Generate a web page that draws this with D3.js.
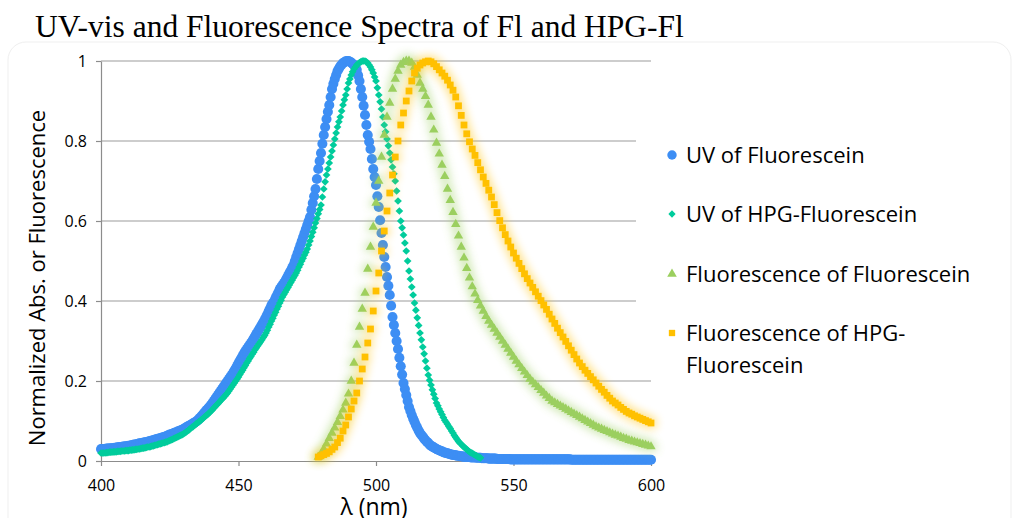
<!DOCTYPE html>
<html>
<head>
<meta charset="utf-8">
<script src="https://cdn.jsdelivr.net/npm/d3@7"></script>
<style>
  body { margin: 0; background: #fff; }
  svg { display: block; }
</style>
</head>
<body>
<svg id="chart" width="1019" height="518"></svg>
<script>
// ---- data (normalized) ----
const xTicks = [400, 450, 500, 550, 600];
const yTicks = [0, 0.2, 0.4, 0.6, 0.8, 1];

const seriesNames = ["UV of Fluorescein", "UV of HPG-Fluorescein", "Fluorescence of Fluorescein", "Fluorescence of HPG-Fluorescein"];

// UV of Fluorescein, 400..600 nm, 0.5 nm steps
const uvFlStart = 400, uvFlStep = 0.5;
const uvFl = [
  0.030,0.030,0.030,0.030,0.031,0.031,0.031,0.032,0.032,0.032,0.033,0.033,0.034,0.034,0.035,0.035,0.036,0.036,0.037,0.037,
  0.038,0.038,0.039,0.040,0.041,0.041,0.042,0.043,0.044,0.044,0.045,0.046,0.047,0.047,0.048,0.049,0.050,0.051,0.052,0.053,
  0.054,0.055,0.056,0.057,0.058,0.059,0.060,0.061,0.063,0.064,0.066,0.067,0.068,0.070,0.071,0.072,0.074,0.075,0.077,0.078,
  0.080,0.082,0.084,0.086,0.088,0.090,0.092,0.094,0.096,0.098,0.101,0.104,0.108,0.112,0.116,0.120,0.124,0.128,0.132,0.136,
  0.140,0.145,0.150,0.155,0.160,0.165,0.170,0.175,0.180,0.185,0.190,0.195,0.200,0.205,0.210,0.215,0.220,0.226,0.232,0.238,
  0.245,0.251,0.257,0.263,0.269,0.275,0.280,0.285,0.290,0.295,0.300,0.306,0.312,0.318,0.323,0.329,0.335,0.341,0.347,0.353,
  0.360,0.367,0.375,0.382,0.390,0.395,0.400,0.408,0.415,0.422,0.430,0.435,0.440,0.445,0.450,0.457,0.463,0.470,0.476,0.483,
  0.490,0.500,0.510,0.520,0.530,0.540,0.550,0.560,0.570,0.580,0.590,0.600,0.610,0.628,0.645,0.662,0.680,0.705,0.730,0.750,
  0.770,0.793,0.815,0.835,0.855,0.873,0.890,0.910,0.930,0.943,0.955,0.965,0.975,0.981,0.987,0.991,0.995,0.997,0.999,1.000,
  1.000,0.998,0.996,0.993,0.990,0.984,0.978,0.964,0.950,0.930,0.910,0.888,0.865,0.840,0.815,0.798,0.780,0.755,0.730,0.710,
  0.690,0.662,0.635,0.602,0.570,0.540,0.510,0.485,0.460,0.438,0.415,0.388,0.360,0.340,0.320,0.300,0.280,0.258,0.237,0.216,
  0.195,0.180,0.165,0.150,0.135,0.125,0.115,0.106,0.098,0.090,0.083,0.076,0.070,0.065,0.061,0.056,0.052,0.048,0.045,0.041,
  0.038,0.036,0.034,0.032,0.030,0.028,0.027,0.025,0.024,0.022,0.021,0.020,0.019,0.018,0.017,0.016,0.015,0.015,0.014,0.013,
  0.013,0.012,0.012,0.011,0.011,0.010,0.010,0.010,0.010,0.009,0.009,0.009,0.009,0.008,0.008,0.008,0.008,0.007,0.007,0.007,
  0.007,0.007,0.006,0.006,0.006,0.006,0.006,0.006,0.005,0.005,0.005,0.005,0.005,0.005,0.005,0.005,0.005,0.005,0.004,0.004,
  0.004,0.004,0.004,0.004,0.004,0.004,0.004,0.004,0.004,0.004,0.004,0.004,0.004,0.004,0.004,0.004,0.004,0.004,0.004,0.004,
  0.004,0.004,0.004,0.004,0.004,0.004,0.004,0.004,0.004,0.004,0.004,0.004,0.004,0.004,0.004,0.004,0.004,0.004,0.004,0.004,
  0.004,0.004,0.003,0.003,0.003,0.003,0.003,0.003,0.003,0.003,0.003,0.003,0.003,0.003,0.003,0.003,0.003,0.003,0.003,0.003,
  0.003,0.003,0.003,0.003,0.003,0.003,0.003,0.003,0.003,0.003,0.003,0.003,0.003,0.003,0.003,0.003,0.003,0.003,0.003,0.003,
  0.003,0.003,0.003,0.003,0.003,0.003,0.003,0.003,0.003,0.003,0.003,0.003,0.003,0.003,0.003,0.003,0.003,0.003,0.003,0.003,
  0.003
];

// UV of HPG-Fluorescein, 400..538 nm, 0.5 nm steps
const uvHpgStart = 400, uvHpgStep = 0.5;
const uvHpg = [
  0.020,0.020,0.020,0.020,0.021,0.021,0.022,0.022,0.022,0.023,0.023,0.023,0.024,0.024,0.024,0.025,0.025,0.025,0.026,0.026,
  0.026,0.027,0.027,0.028,0.028,0.029,0.029,0.030,0.030,0.031,0.032,0.032,0.033,0.034,0.035,0.035,0.036,0.037,0.038,0.039,
  0.040,0.041,0.042,0.043,0.044,0.045,0.046,0.047,0.048,0.050,0.051,0.053,0.054,0.056,0.058,0.059,0.061,0.063,0.064,0.066,
  0.068,0.070,0.073,0.075,0.078,0.081,0.084,0.086,0.089,0.092,0.095,0.098,0.100,0.103,0.106,0.109,0.112,0.115,0.118,0.121,
  0.125,0.128,0.132,0.136,0.140,0.143,0.147,0.151,0.155,0.158,0.162,0.166,0.170,0.175,0.180,0.185,0.190,0.195,0.200,0.205,
  0.210,0.216,0.222,0.227,0.233,0.239,0.245,0.250,0.256,0.261,0.267,0.272,0.278,0.283,0.288,0.293,0.298,0.303,0.309,0.314,
  0.320,0.327,0.335,0.342,0.350,0.357,0.365,0.372,0.380,0.387,0.395,0.402,0.410,0.416,0.422,0.428,0.434,0.440,0.446,0.452,
  0.458,0.464,0.470,0.477,0.485,0.492,0.500,0.507,0.515,0.522,0.530,0.540,0.550,0.561,0.572,0.583,0.595,0.606,0.618,0.629,
  0.640,0.660,0.680,0.698,0.715,0.730,0.745,0.760,0.775,0.790,0.805,0.820,0.835,0.848,0.860,0.875,0.890,0.903,0.915,0.930,
  0.945,0.955,0.965,0.973,0.980,0.985,0.990,0.993,0.996,0.998,1.000,1.000,1.000,0.998,0.995,0.990,0.985,0.978,0.970,0.960,
  0.950,0.933,0.915,0.898,0.880,0.860,0.840,0.823,0.805,0.788,0.770,0.753,0.735,0.718,0.700,0.675,0.650,0.625,0.600,0.583,
  0.565,0.545,0.525,0.500,0.475,0.455,0.435,0.415,0.395,0.377,0.358,0.339,0.320,0.303,0.285,0.268,0.250,0.232,0.215,0.202,
  0.190,0.178,0.167,0.156,0.145,0.138,0.130,0.123,0.116,0.109,0.102,0.097,0.092,0.086,0.081,0.075,0.070,0.064,0.059,0.054,
  0.049,0.045,0.042,0.038,0.035,0.032,0.029,0.026,0.023,0.021,0.019,0.017,0.015,0.013,0.011,0.009,0.008
];

// Fluorescence of Fluorescein, 479..600 nm, 1 nm steps
const flFlStart = 479, flFlStep = 1;
const flFl = [
  0.010,0.018,0.030,0.043,0.057,0.070,0.083,0.097,0.112,0.128,
  0.145,0.168,0.200,0.245,0.290,0.335,0.380,0.420,0.480,0.535,
  0.585,0.645,0.700,0.760,0.815,0.860,0.895,0.930,0.955,0.975,
  0.990,0.997,1.000,1.000,0.995,0.985,0.965,0.945,0.930,0.912,
  0.890,0.860,0.828,0.795,0.768,0.740,0.712,0.680,0.652,0.622,
  0.592,0.563,0.535,0.508,0.482,0.458,0.436,0.418,0.402,0.388,
  0.375,0.362,0.350,0.340,0.330,0.320,0.310,0.300,0.290,0.280,
  0.270,0.260,0.250,0.241,0.232,0.223,0.214,0.205,0.198,0.191,
  0.184,0.177,0.170,0.163,0.157,0.150,0.146,0.142,0.138,0.134,
  0.130,0.126,0.122,0.118,0.114,0.110,0.106,0.102,0.098,0.094,
  0.090,0.086,0.083,0.080,0.077,0.074,0.071,0.068,0.065,0.063,
  0.060,0.057,0.055,0.052,0.050,0.048,0.046,0.044,0.042,0.040,
  0.038,0.036
];

// Fluorescence of HPG-Fluorescein, 479..600 nm, 1 nm steps
const flHpgStart = 479, flHpgStep = 1;
const flHpg = [
  0.010,0.013,0.016,0.019,0.023,0.029,0.035,0.046,0.057,0.075,
  0.090,0.110,0.130,0.150,0.170,0.200,0.230,0.260,0.295,0.330,
  0.375,0.425,0.470,0.525,0.575,0.625,0.670,0.715,0.760,0.800,
  0.840,0.870,0.900,0.925,0.950,0.970,0.982,0.990,0.995,0.998,
  1.000,0.998,0.993,0.986,0.978,0.970,0.962,0.952,0.940,0.927,
  0.910,0.888,0.864,0.840,0.818,0.798,0.780,0.764,0.746,0.728,
  0.710,0.694,0.677,0.660,0.641,0.621,0.601,0.583,0.566,0.550,
  0.535,0.520,0.507,0.494,0.481,0.468,0.456,0.445,0.434,0.423,
  0.412,0.401,0.390,0.379,0.367,0.355,0.344,0.332,0.321,0.310,
  0.299,0.288,0.277,0.266,0.255,0.245,0.236,0.227,0.219,0.211,
  0.203,0.195,0.187,0.179,0.172,0.164,0.157,0.150,0.145,0.140,
  0.134,0.129,0.124,0.120,0.117,0.113,0.110,0.107,0.104,0.101,
  0.098,0.095
];

const colors = ["#3d8ef4", "#00cc9c", "#9bcf5f", "#ffc000"];

const svg = d3.select("#chart");
const fontSans = "'Open Sans', 'Noto Sans', sans-serif";

const x = d3.scaleLinear().domain([400, 600]).range([101, 651]);
const y = d3.scaleLinear().domain([0, 1]).range([461, 61]);

// soft glow for the fluorescence series
const defs = svg.append("defs");
["glowGreen", "glowYellow"].forEach(id => {
  const f = defs.append("filter")
    .attr("id", id)
    .attr("filterUnits", "userSpaceOnUse")
    .attr("x", 0).attr("y", 0).attr("width", 1019).attr("height", 518);
  f.append("feMorphology").attr("in", "SourceGraphic").attr("operator", "dilate").attr("radius", 1.5).attr("result", "d");
  f.append("feGaussianBlur").attr("in", "d").attr("stdDeviation", 4).attr("result", "b");
  f.append("feComponentTransfer").attr("in", "b").attr("result", "b2")
    .append("feFuncA").attr("type", "linear").attr("slope", 0.45);
  const m = f.append("feMerge");
  m.append("feMergeNode").attr("in", "b2");
  m.append("feMergeNode").attr("in", "SourceGraphic");
});

// faint outer frame
svg.append("rect")
  .attr("x", 8).attr("y", 42)
  .attr("width", 1003).attr("height", 520)
  .attr("rx", 18)
  .attr("fill", "none")
  .attr("stroke", "#efefef")
  .attr("stroke-width", 1);

// title
svg.append("text")
  .attr("x", 35).attr("y", 37)
  .style("font-family", "'Liberation Serif', 'Times New Roman', serif")
  .style("font-size", "31.5px")
  .style("fill", "#000")
  .text("UV-vis and Fluorescence Spectra of Fl and HPG-Fl");

// gridlines
svg.append("g")
  .selectAll("line")
  .data(yTicks.filter(d => d > 0))
  .join("line")
  .attr("x1", x(400)).attr("x2", x(600))
  .attr("y1", d => y(d)).attr("y2", d => y(d))
  .attr("stroke", "#9c9c9c")
  .attr("stroke-width", 1.2);

// axes
const yAxis = svg.append("g")
  .attr("transform", `translate(${x(400)},0)`)
  .call(d3.axisLeft(y).tickValues(yTicks).tickSize(5).tickSizeOuter(0).tickPadding(9).tickFormat(d3.format("~g")));
const xAxis = svg.append("g")
  .attr("transform", `translate(0,${y(0)})`)
  .call(d3.axisBottom(x).tickValues(xTicks).tickSize(5).tickSizeOuter(0).tickPadding(14));

[yAxis, xAxis].forEach(a => {
  a.select(".domain").attr("stroke", "#8c8c8c").attr("stroke-width", 1.2);
  a.selectAll(".tick line").attr("stroke", "#8c8c8c").attr("stroke-width", 1.2);
  a.selectAll(".tick text")
    .style("font-family", fontSans)
    .style("font-size", "16px")
    .attr("fill", "#000");
});

// axis titles
svg.append("text")
  .attr("x", 374).attr("y", 515)
  .attr("text-anchor", "middle")
  .style("font-family", fontSans)
  .style("font-size", "23px")
  .text("λ (nm)");

svg.append("text")
  .attr("transform", "translate(45,278) rotate(-90)")
  .attr("text-anchor", "middle")
  .style("font-family", fontSans)
  .style("font-size", "22px")
  .text("Normalized Abs. or Fluorescence");

// series
const symCircle = d3.symbol().type(d3.symbolCircle).size(80);
const symDiamond = d3.symbol().type(d3.symbolDiamond2).size(38);
const symTriangle = d3.symbol().type(d3.symbolTriangle).size(38);
const symSquare = d3.symbol().type(d3.symbolSquare).size(46);

const series = [
  { vals: uvFl, start: uvFlStart, step: uvFlStep, sym: symCircle, filter: null },
  { vals: uvHpg, start: uvHpgStart, step: uvHpgStep, sym: symDiamond, filter: null },
  { vals: flFl, start: flFlStart, step: flFlStep, sym: symTriangle, filter: "url(#glowGreen)" },
  { vals: flHpg, start: flHpgStart, step: flHpgStep, sym: symSquare, filter: "url(#glowYellow)" }
];

series.forEach((s, k) => {
  const g = svg.append("g").attr("filter", s.filter);
  g.selectAll("path")
    .data(s.vals.map((v, i) => [s.start + i * s.step, v]))
    .join("path")
    .attr("d", s.sym())
    .attr("transform", d => `translate(${x(d[0])},${y(d[1])})`)
    .attr("fill", colors[k]);
});

// legend
const legend = svg.append("g");
legend.append("rect")
  .attr("x", 636).attr("y", 118)
  .attr("width", 370).attr("height", 258)
  .attr("fill", "#fff");

const legendSyms = [
  d3.symbol().type(d3.symbolCircle).size(70),
  d3.symbol().type(d3.symbolDiamond2).size(34),
  d3.symbol().type(d3.symbolTriangle).size(40),
  d3.symbol().type(d3.symbolSquare).size(40)
];
const legendLines = [["UV of Fluorescein"], ["UV of HPG-Fluorescein"], ["Fluorescence of Fluorescein"], ["Fluorescence of HPG-", "Fluorescein"]];
const rowY = [155, 214, 274, 333];

seriesNames.forEach((name, k) => {
  legend.append("path")
    .attr("d", legendSyms[k]())
    .attr("transform", `translate(672,${rowY[k]})`)
    .attr("fill", colors[k]);
  const t = legend.append("text")
    .attr("x", 686).attr("y", rowY[k] + 8)
    .style("font-family", fontSans)
    .style("font-size", "22px")
    .attr("fill", "#000");
  legendLines[k].forEach((ln, j) => {
    t.append("tspan").attr("x", 686).attr("dy", j === 0 ? 0 : 32).text(ln);
  });
});
</script>
</body>
</html>
